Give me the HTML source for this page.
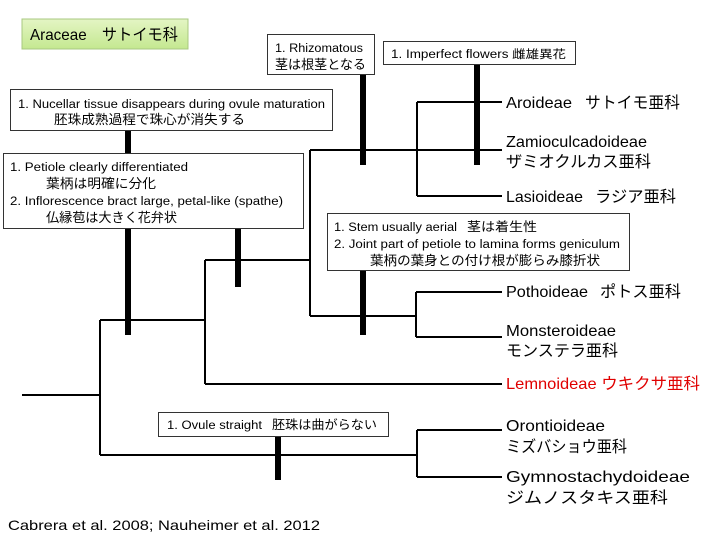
<!DOCTYPE html>
<html><head><meta charset="utf-8"><style>
body{margin:0;background:#fff}
svg{display:block}
text{font-family:"Liberation Sans","Noto Sans CJK JP",sans-serif;fill:#000}
.s{font-size:11.5px}
.l{font-size:16px}
</style></head><body>
<svg width="720" height="540" viewBox="0 0 720 540">
<defs><linearGradient id="g" x1="0" y1="0" x2="0" y2="1"><stop offset="0" stop-color="#e4f5c4"/><stop offset="1" stop-color="#c4e890"/></linearGradient></defs>
<rect x="22" y="19" width="166" height="30" fill="url(#g)" stroke="#a8c880"/>
<text x="30" y="40" font-size="16" textLength="148" lengthAdjust="spacingAndGlyphs">Araceae　サトイモ科</text>
<g stroke="#000" stroke-width="2" fill="none">
<path d="M22 395H100M100 320V455M100 320H205M205 260V384M205 260H310M205 384H502M310 150V316M310 150H502M417 102V196M417 102H502M417 196H502M310 316H416M416 292V337M416 292H502M416 337H502M100 455H417M417 430V477M417 430H502M417 477H502"/>
</g>
<g fill="#000">
<rect x="125" y="130" width="6" height="23"/>
<rect x="125" y="228" width="6" height="107"/>
<rect x="235" y="228" width="6" height="59"/>
<rect x="360" y="75" width="6" height="90"/>
<rect x="474" y="64" width="6" height="101"/>
<rect x="360" y="271" width="6" height="64"/>
<rect x="275" y="436" width="6" height="44"/>
</g>
<g fill="#fff" stroke="#333" stroke-width="1">
<rect x="267.5" y="34.5" width="107" height="40"/>
<rect x="383.5" y="41.5" width="192" height="23"/>
<rect x="10.5" y="89.5" width="322" height="41"/>
<rect x="3.5" y="153.5" width="300" height="75"/>
<rect x="327.5" y="213.5" width="302" height="57"/>
<rect x="158.5" y="412.5" width="230" height="24"/>
</g>
<text class="s" x="275" y="52" textLength="88" lengthAdjust="spacingAndGlyphs">1. Rhizomatous</text>
<text x="275" y="69" font-size="13" textLength="91" lengthAdjust="spacingAndGlyphs">茎は根茎となる</text>
<text class="s" x="391" y="58" textLength="175" lengthAdjust="spacingAndGlyphs">1. Imperfect flowers 雌雄異花</text>
<text class="s" x="18" y="108" textLength="307" lengthAdjust="spacingAndGlyphs">1. Nucellar tissue disappears during ovule maturation</text>
<text x="54" y="124" font-size="13" textLength="191" lengthAdjust="spacingAndGlyphs">胚珠成熟過程で珠心が消失する</text>
<text class="s" x="10" y="171" textLength="178" lengthAdjust="spacingAndGlyphs">1. Petiole clearly differentiated</text>
<text x="46" y="188" font-size="13" textLength="110" lengthAdjust="spacingAndGlyphs">葉柄は明確に分化</text>
<text class="s" x="10" y="205" textLength="273" lengthAdjust="spacingAndGlyphs">2. Inflorescence bract large, petal-like (spathe)</text>
<text x="46" y="222" font-size="13" textLength="131" lengthAdjust="spacingAndGlyphs">仏縁苞は大きく花弁状</text>
<text class="s" x="334" y="231" textLength="123" lengthAdjust="spacingAndGlyphs">1. Stem usually aerial</text>
<text x="467" y="231" font-size="12.5" textLength="70" lengthAdjust="spacingAndGlyphs">茎は着生性</text>
<text class="s" x="334" y="248" textLength="286" lengthAdjust="spacingAndGlyphs">2. Joint part of petiole to lamina forms geniculum</text>
<text x="370" y="265" font-size="13" textLength="230" lengthAdjust="spacingAndGlyphs">葉柄の葉身との付け根が膨らみ膝折状</text>
<text class="s" x="167" y="429" textLength="95" lengthAdjust="spacingAndGlyphs">1. Ovule straight</text>
<text x="272" y="429" font-size="12.5" textLength="105" lengthAdjust="spacingAndGlyphs">胚珠は曲がらない</text>
<text class="l" x="506" y="108" textLength="66" lengthAdjust="spacingAndGlyphs">Aroideae</text>
<text class="l" x="585" y="108" textLength="95" lengthAdjust="spacingAndGlyphs">サトイモ亜科</text>
<text class="l" x="506" y="147" textLength="141" lengthAdjust="spacingAndGlyphs">Zamioculcadoideae</text>
<text class="l" x="506" y="167" textLength="145" lengthAdjust="spacingAndGlyphs">ザミオクルカス亜科</text>
<text class="l" x="506" y="202" textLength="77" lengthAdjust="spacingAndGlyphs">Lasioideae</text>
<text class="l" x="595" y="202" textLength="81" lengthAdjust="spacingAndGlyphs">ラジア亜科</text>
<text class="l" x="506" y="297" textLength="82" lengthAdjust="spacingAndGlyphs">Pothoideae</text>
<text class="l" x="600" y="297" textLength="81" lengthAdjust="spacingAndGlyphs">ポトス亜科</text>
<text class="l" x="506" y="336" textLength="110" lengthAdjust="spacingAndGlyphs">Monsteroideae</text>
<text class="l" x="506" y="356" textLength="112" lengthAdjust="spacingAndGlyphs">モンステラ亜科</text>
<text class="l" x="506" y="389" style="fill:#e00000" textLength="194" lengthAdjust="spacingAndGlyphs">Lemnoideae ウキクサ亜科</text>
<text class="l" x="506" y="431" textLength="99" lengthAdjust="spacingAndGlyphs">Orontioideae</text>
<text class="l" x="506" y="452" textLength="121" lengthAdjust="spacingAndGlyphs">ミズバショウ亜科</text>
<text class="l" x="506" y="482" textLength="184" lengthAdjust="spacingAndGlyphs">Gymnostachydoideae</text>
<text class="l" x="506" y="503" textLength="162" lengthAdjust="spacingAndGlyphs">ジムノスタキス亜科</text>
<text x="8" y="530" font-size="14" textLength="312" lengthAdjust="spacingAndGlyphs">Cabrera et al. 2008; Nauheimer et al. 2012</text>
</svg>
</body></html>
